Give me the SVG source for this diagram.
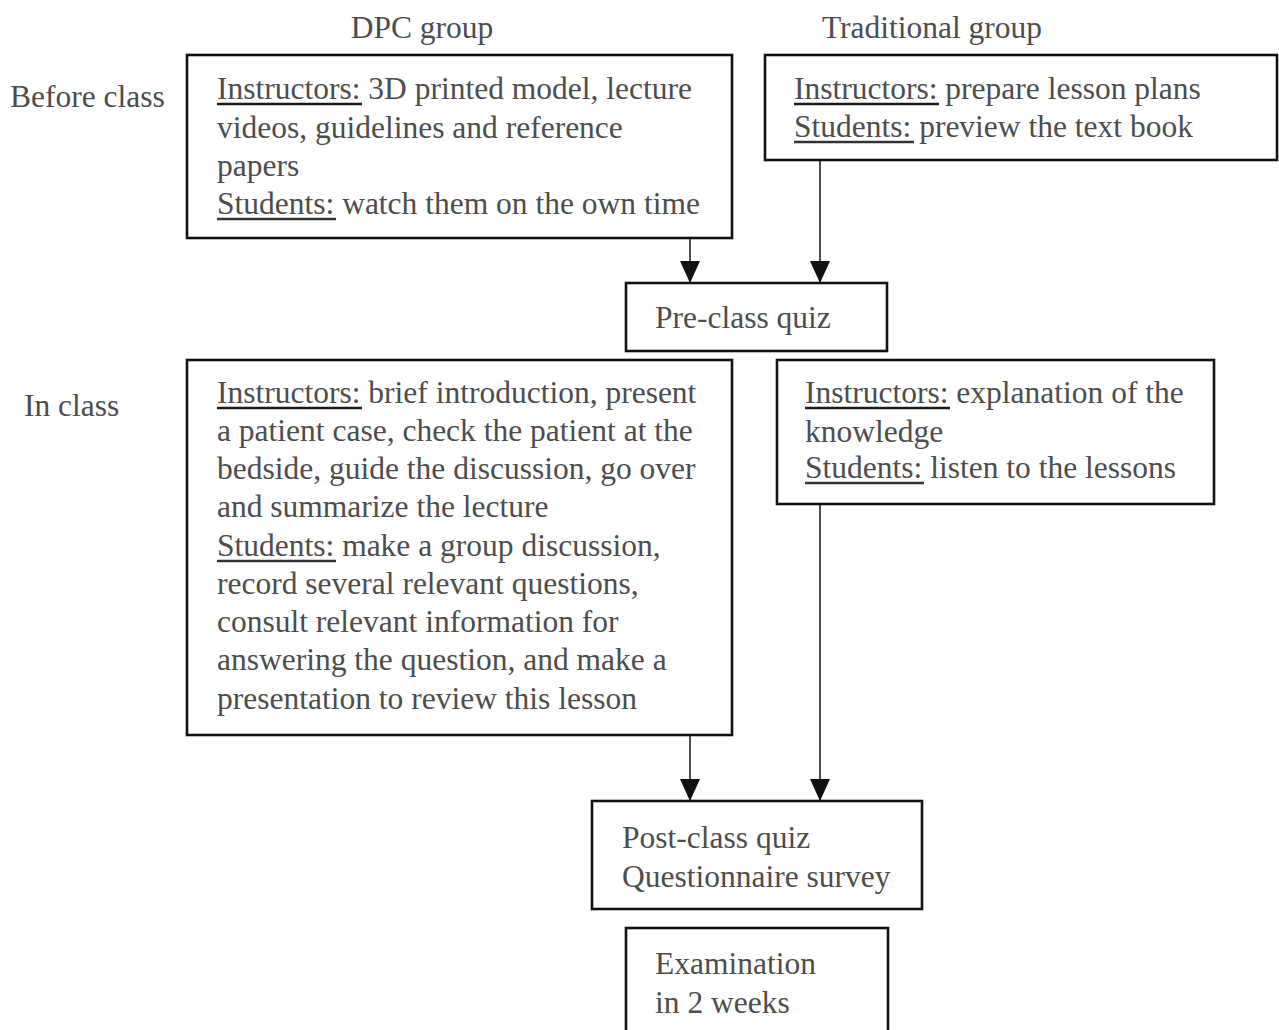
<svg xmlns="http://www.w3.org/2000/svg" width="1279" height="1030" viewBox="0 0 1279 1030">
<style>
.t{font-family:"Liberation Serif","Times New Roman",serif;font-size:31.5px;fill:#4d4d4d}
.box{fill:#fff;stroke:#111;stroke-width:2.6}
.ul{stroke:#1a1a1a;stroke-width:2.6}
.ul2{stroke:#333;stroke-width:2.6}
.con{stroke:#222;stroke-width:1.6;fill:none}
</style>
<defs>
<marker id="ah" markerUnits="userSpaceOnUse" markerWidth="23" markerHeight="22" refX="22" refY="10" orient="auto">
<polygon points="0,0 22,10 0,20" fill="#111"/>
</marker>
</defs>
<rect width="1279" height="1030" fill="#fff"/>
<g id="headers">
<text class="t" x="422" y="38" text-anchor="middle">DPC group</text>
<text class="t" x="932" y="38" text-anchor="middle">Traditional group</text>
<text class="t" x="10" y="107">Before class</text>
<text class="t" x="24" y="416">In class</text>
</g>
<g id="connectors">
<line class="con" x1="690" y1="239" x2="690" y2="283" marker-end="url(#ah)"/>
<line class="con" x1="820" y1="161" x2="820" y2="283" marker-end="url(#ah)"/>
<line class="con" x1="690" y1="736" x2="690" y2="801" marker-end="url(#ah)"/>
<line class="con" x1="820" y1="505" x2="820" y2="801" marker-end="url(#ah)"/>
</g>
<g id="dpc-before">
<rect class="box" x="187" y="55" width="545" height="183"/>
<text class="t" x="217" y="99">Instructors: 3D printed model, lecture</text>
<text class="t" x="217" y="138">videos, guidelines and reference</text>
<text class="t" x="217" y="176">papers</text>
<text class="t" x="217" y="214">Students: watch them on the own time</text>
<line class="ul" x1="217" y1="104" x2="362" y2="104"/>
<line class="ul2" x1="217" y1="219" x2="336" y2="219"/>
</g>
<g id="trad-before">
<rect class="box" x="765" y="55" width="512" height="105"/>
<text class="t" x="794" y="99">Instructors: prepare lesson plans</text>
<text class="t" x="794" y="137">Students: preview the text book</text>
<line class="ul" x1="794" y1="104" x2="939" y2="104"/>
<line class="ul2" x1="794" y1="142" x2="914" y2="142"/>
</g>
<g id="pre-class-quiz">
<rect class="box" x="626" y="283" width="261" height="68"/>
<text class="t" x="655" y="328">Pre-class quiz</text>
</g>
<g id="dpc-in">
<rect class="box" x="187" y="360" width="545" height="375"/>
<text class="t" x="217" y="403">Instructors: brief introduction, present</text>
<text class="t" x="217" y="441">a patient case, check the patient at the</text>
<text class="t" x="217" y="479">bedside, guide the discussion, go over</text>
<text class="t" x="217" y="517">and summarize the lecture</text>
<text class="t" x="217" y="556">Students: make a group discussion,</text>
<text class="t" x="217" y="594">record several relevant questions,</text>
<text class="t" x="217" y="632">consult relevant information for</text>
<text class="t" x="217" y="670">answering the question, and make a</text>
<text class="t" x="217" y="709">presentation to review this lesson</text>
<line class="ul" x1="217" y1="408" x2="362" y2="408"/>
<line class="ul2" x1="217" y1="561" x2="336" y2="561"/>
</g>
<g id="trad-in">
<rect class="box" x="777" y="360" width="437" height="144"/>
<text class="t" x="805" y="403">Instructors: explanation of the</text>
<text class="t" x="805" y="442">knowledge</text>
<text class="t" x="805" y="478">Students: listen to the lessons</text>
<line class="ul" x1="805" y1="408" x2="950" y2="408"/>
<line class="ul2" x1="805" y1="483" x2="924" y2="483"/>
</g>
<g id="post-class">
<rect class="box" x="592" y="801" width="330" height="108"/>
<text class="t" x="622" y="848">Post-class quiz</text>
<text class="t" x="622" y="887">Questionnaire survey</text>
</g>
<g id="exam">
<rect class="box" x="626" y="928" width="262" height="120"/>
<text class="t" x="655" y="974">Examination</text>
<text class="t" x="655" y="1013">in 2 weeks</text>
</g>
</svg>
